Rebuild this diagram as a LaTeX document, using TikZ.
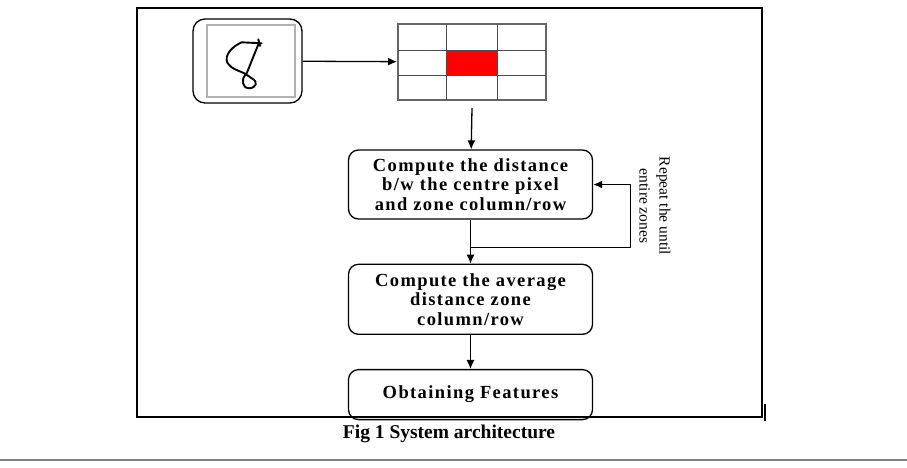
\documentclass[tikz,border=0pt]{standalone}
\usepackage{fontspec}
\setmainfont{Liberation Serif}
\newfontfamily\boxfont[LetterSpace=7.5]{Liberation Serif}
\usetikzlibrary{shapes,arrows.meta,positioning}
\tikzstyle{stepbox}  = [rectangle, draw, line width=1.3pt, rounded corners=10pt, text centered, minimum width=244pt, font=\boxfont\bfseries\fontsize{18.5}{19.5}\selectfont, align=center]
\tikzstyle{imgbox}   = [rectangle, draw, line width=1.3pt, rounded corners=12pt, minimum width=109pt, minimum height=84pt]
\tikzstyle{zonegrid} = [rectangle, draw=black!60, line width=2pt, minimum width=148pt, minimum height=76pt]
\tikzstyle{line}     = [draw, line width=1.3pt, -{Latex[length=9pt,width=8pt]}]

\begin{document}
\begin{tikzpicture}[x=1pt, y=-1pt, node distance=44pt]
        \useasboundingbox (0,0) rectangle (907,467);
        \fill[white] (0,0) rectangle (907,467);

        % input image and zone grid
        \node [imgbox] (digit) at (247.5,61) {};
        \draw [black!30, line width=2.5pt] (207,25) rectangle (295,97);
        \draw [line width=1.9pt, line cap=round, line join=round]
              (241.7,42.3) -- (261.7,43.3)
              (259,42.7) -- (246.7,73.3)
              (241.7,42.3) .. controls (231,47) and (224,56) .. (227.5,63)
              .. controls (231,69) and (240,71) .. (245.7,74)
              .. controls (241,79) and (242,88) .. (249,88.3)
              .. controls (256,88) and (259,82) .. (251.7,78.3) -- (245.7,74)
              (258.3,39.3) -- (260,46);
        \node [zonegrid] (grid) at (472,62) {};
        \fill [red] (446,50) rectangle (497,75);
        \draw [black!70, line width=1pt] (446,24) -- (446,100) (497,24) -- (497,100)
              (398,50) -- (546,50) (398,75) -- (546,75);

        % processing steps
        \node [stepbox, minimum height=69pt] (dist) at (470.5,184.5) {Compute the distance\\b/w the centre pixel\\and zone column/row};
        \node [stepbox, minimum height=70pt, below=44pt of dist] (avg) {Compute the average\\distance zone\\column/row};
        \node [stepbox, minimum height=50pt, below=34pt of avg] (feat) {Obtaining Features};
        \node [rotate=-90, align=center, font=\fontsize{15.5}{20}\selectfont] (repeat) at (655,206) {Repeat the until\\entire zones};

        \path [line] (digit) -- (grid);
        \path [line] ([yshift=-7pt]grid.south) -- (dist);
        \path [line] (dist) -- (avg);
        \path [line] ([yshift=-28pt]dist.south) -| ([xshift=37pt]dist.east) -- (dist.east);
        \path [line] (avg) -- (feat);

        % frame and caption
        \draw [line width=2pt] (137,8) rectangle (762,417);
        \draw [line width=1.2pt] (765,404) -- (765,421);
        \node [font=\bfseries\fontsize{19.5}{22}\selectfont] (caption) at (449,434) {Fig 1 System architecture};
        \draw [black!50, line width=2pt] (0,460) -- (907,460);
      \end{tikzpicture}
\end{document}
